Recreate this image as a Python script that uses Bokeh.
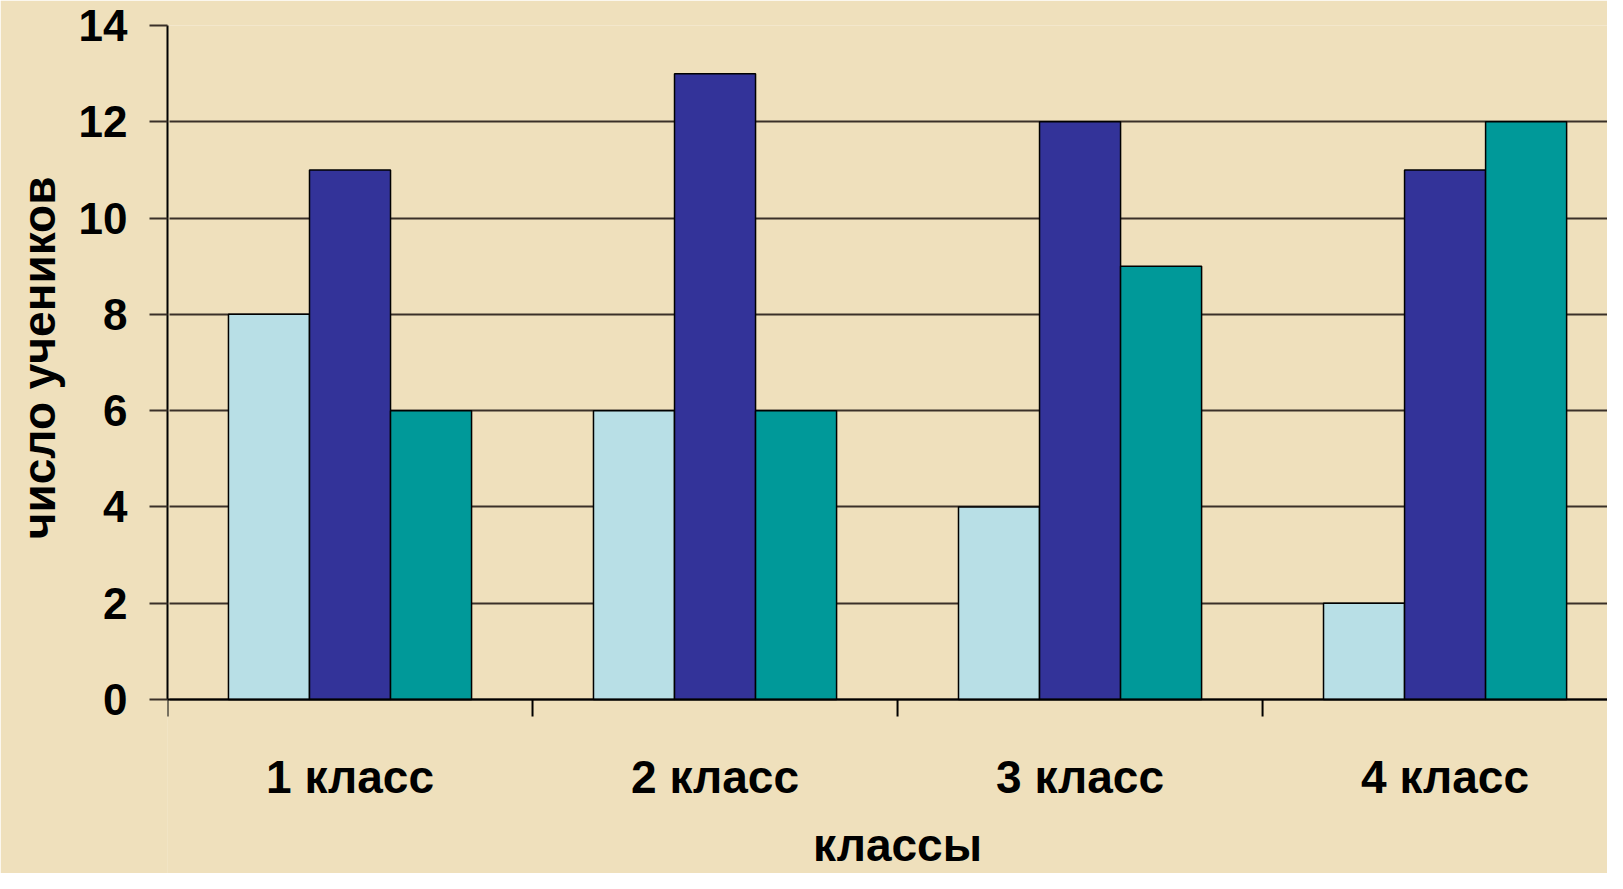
from bokeh.plotting import figure
from bokeh.models import Range1d, FixedTicker, ColumnDataSource, Span, Title
from bokeh.core.properties import value
from bokeh.embed import file_html
from bokeh.resources import INLINE
import numpy as np

categories = ["1 класс", "2 класс", "3 класс", "4 класс"]
series1 = [8, 6, 4, 2]
series2 = [11, 13, 12, 11]
series3 = [6, 6, 9, 12]
y_ticks = [0, 2, 4, 6, 8, 10, 12, 14]
x_title = "классы"
y_title = "число учеников"

colors = ["#B8DFE6", "#333399", "#009999"]
BG = "#EFE0BC"
FONT = "Liberation Sans"

# frame covers the plot and the space under it (for category labels and title)
p = figure(width=1607, height=873, output_backend="svg", toolbar_location=None,
           x_range=Range1d(0, 3.945), y_range=Range1d(-3.614, 14),
           min_border_left=163, min_border_right=0, min_border_top=25, min_border_bottom=0,
           x_axis_location=None)
p.background_fill_color = BG
p.border_fill_color = BG
p.outline_line_color = None

# hide the seam between frame and border on the left edge
p.add_layout(Span(location=0, dimension="height", line_color=BG, line_width=4, level="underlay"))

idx = np.arange(len(categories))
w = 0.222
for k, (vals, c) in enumerate(zip([series1, series2, series3], colors)):
    src = ColumnDataSource(dict(x=idx + 0.5 + (k - 1) * w, top=vals))
    p.vbar(x="x", top="top", width=w, bottom=0, source=src,
           fill_color=c, line_color="black", line_width=1.5)

p.xgrid.visible = False
p.ygrid.ticker = FixedTicker(ticks=y_ticks)
p.ygrid.grid_line_color = "#3a3028"
p.ygrid.grid_line_width = 2
p.ygrid.level = "underlay"

# baseline (x axis line)
p.add_layout(Span(location=y_ticks[0], dimension="width", line_color="black", line_width=2))

# x tick marks at category boundaries, pointing down
p.ray(x=list(range(len(categories))), y=[y_ticks[0]] * len(categories),
      length=17, length_units="screen", angle=-np.pi / 2,
      line_color="black", line_width=2)

# category labels under the axis
p.text(x=idx + 0.5, y=[y_ticks[0]] * len(categories), text=categories,
       y_offset=77, text_align="center", text_baseline="alphabetic",
       text_font=value(FONT), text_font_style="bold", text_font_size="46px",
       text_color="black")

# x axis title
p.text(x=[len(categories) / 2], y=[y_ticks[0]], text=[x_title],
       y_offset=145, text_align="center", text_baseline="alphabetic",
       text_font=value(FONT), text_font_style="bold", text_font_size="46px",
       text_color="black")

ya = p.yaxis[0]
ya.ticker = FixedTicker(ticks=y_ticks)
ya.bounds = (y_ticks[0], y_ticks[-1])
ya.major_tick_in = 0
ya.major_tick_out = 18
ya.minor_tick_line_color = None
ya.major_tick_line_color = "#3a3028"
ya.major_tick_line_width = 2
ya.axis_line_color = "black"
ya.axis_line_width = 2
ya.major_label_text_font = FONT
ya.major_label_text_font_style = "bold"
ya.major_label_text_font_size = "44px"
ya.major_label_text_color = "black"
ya.major_label_standoff = 22

# y axis title, positioned along the upper part of the axis
p.add_layout(Title(text=y_title, align="right", offset=151, standoff=21,
                   text_font=FONT, text_font_style="bold", text_font_size="46px",
                   text_color="black"), "left")

open("out.html", "w").write(file_html(p, INLINE))
